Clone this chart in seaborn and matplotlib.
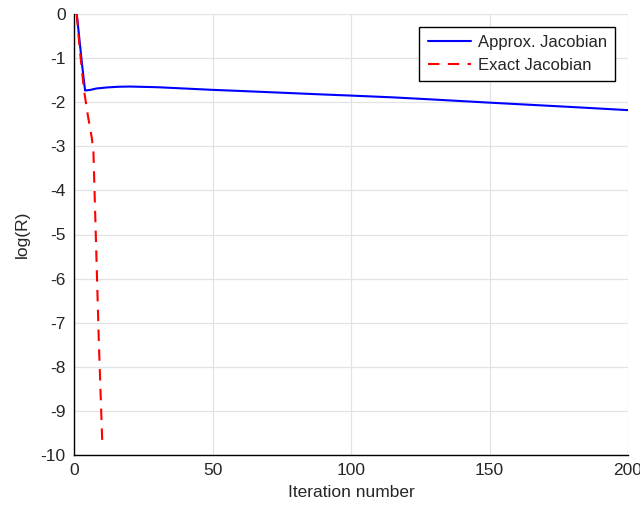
import matplotlib
matplotlib.use("Agg")
import matplotlib.pyplot as plt
import seaborn as sns
import pandas as pd

approx_iter = [1, 2, 3, 4, 6, 8, 12, 16, 20, 30, 40, 50, 60, 75, 90, 100, 115, 130, 150, 165, 180, 200]
approx_logr = [0.0, -0.6, -1.2, -1.735, -1.72, -1.69, -1.665, -1.65, -1.645, -1.66, -1.69, -1.72, -1.745, -1.785, -1.825, -1.85, -1.89, -1.94, -2.01, -2.06, -2.11, -2.18]

exact_iter = [1, 2, 3.6, 5, 6.4, 7, 8, 9, 10.2]
exact_logr = [0.0, -0.75, -1.72, -2.3, -2.8, -3.1, -5.3, -7.5, -9.7]

labels = ["Approx. Jacobian", "Exact Jacobian"]

df = pd.concat([
    pd.DataFrame({"it": approx_iter, "r": approx_logr, "method": labels[0]}),
    pd.DataFrame({"it": exact_iter, "r": exact_logr, "method": labels[1]}),
])

sns.set_style("white")
plt.rcParams['font.family'] = ['Liberation Sans', 'DejaVu Sans']
plt.rcParams['axes.unicode_minus'] = False

fig = plt.figure(figsize=(6.4, 5.08), dpi=100)
ax = fig.add_axes([74/640, 1 - 455/508, 554/640, 441/508])

sns.lineplot(data=df, x="it", y="r", hue="method", style="method",
             palette={labels[0]: "#0000ff", labels[1]: "#ff0000"},
             dashes={labels[0]: "", labels[1]: (5.5, 4)},
             linewidth=1.5, ax=ax, estimator=None, sort=False)

ax.set_xlim(0, 200)
ax.set_ylim(-10, 0)
ax.set_xticks([0, 50, 100, 150, 200])
ax.set_yticks(range(-10, 1))
ax.grid(True, color="#e3e3e3", linewidth=0.9)
ax.set_axisbelow(True)
for s in ["top", "right"]:
    ax.spines[s].set_visible(False)
for s in ["left", "bottom"]:
    ax.spines[s].set_color("black")
    ax.spines[s].set_linewidth(1.0)
ax.tick_params(direction="in", length=5, width=1, colors="black", labelsize=12.5, pad=6, labelcolor="#262626")
ax.set_xlabel("Iteration number", fontsize=12.5, color="#262626", labelpad=5)
ax.set_ylabel("log(R)", fontsize=12.5, color="#262626", labelpad=8)

leg = ax.legend(loc="upper right", bbox_to_anchor=(0.992, 0.99), fontsize=12,
                frameon=True, fancybox=False, edgecolor="black", framealpha=1,
                handlelength=2.6, borderpad=0.5, labelspacing=0.45, handletextpad=0.4)
leg.get_frame().set_linewidth(1.0)

fig.savefig("out.png", dpi=100)
